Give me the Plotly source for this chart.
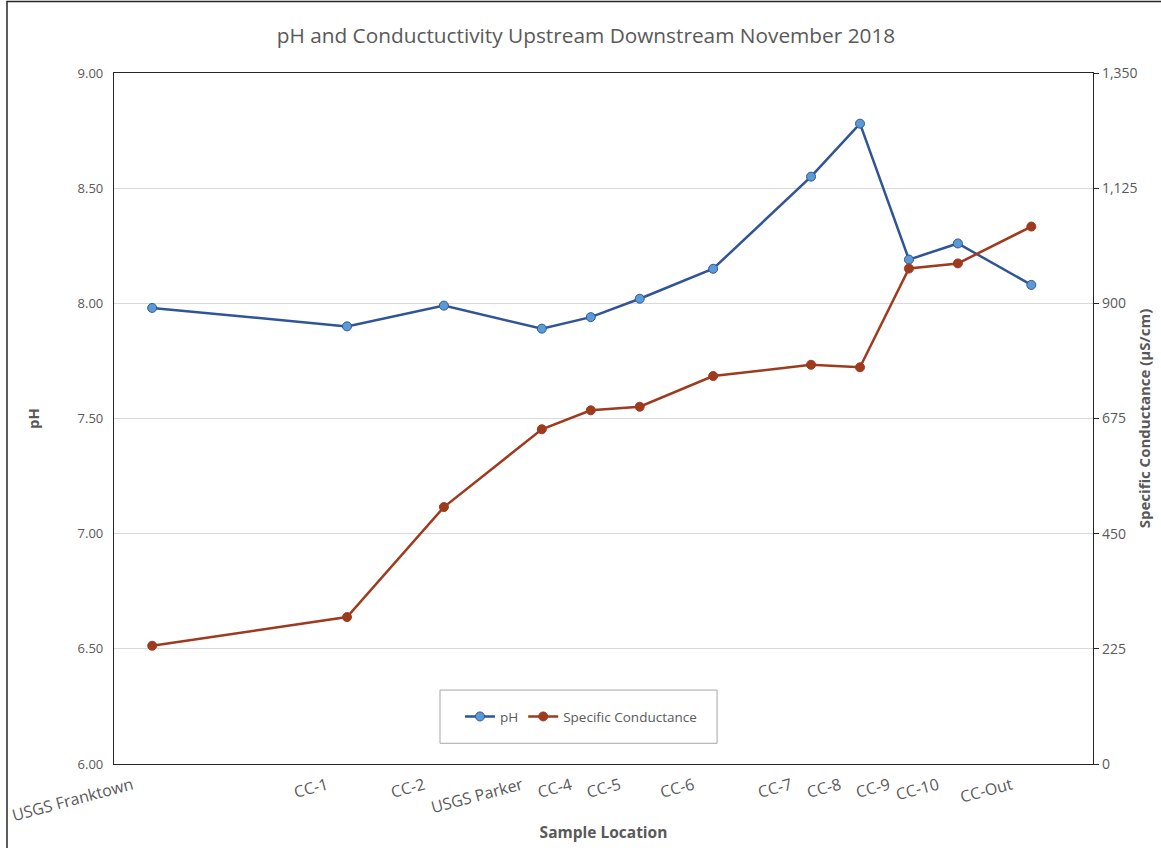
import plotly.graph_objects as go

# ---- data ----
locations = ["USGS Franktown", "CC-1", "CC-2", "USGS Parker", "CC-4", "CC-5",
             "CC-6", "CC-7", "CC-8", "CC-9", "CC-10", "CC-Out"]
distance = [3.9, 23.8, 33.7, 43.7, 48.7, 53.7, 61.2, 71.2, 76.2, 81.2, 86.2, 93.7]
ph_values = [7.98, 7.90, 7.99, 7.89, 7.94, 8.02, 8.15, 8.55, 8.78, 8.19, 8.26, 8.08]
conductance = [231, 287, 502, 654, 691, 698, 758, 780, 775, 968, 978, 1050]

ph_ticks = [6.0, 6.5, 7.0, 7.5, 8.0, 8.5, 9.0]
cond_ticks = [0, 225, 450, 675, 900, 1125, 1350]

FONT = "'Open Sans', sans-serif"
GREY = "#595959"

fig = go.Figure()
fig.add_trace(go.Scatter(
    x=distance, y=ph_values, name="pH", mode="lines+markers",
    line=dict(color="#2F5597", width=2.5),
    marker=dict(size=9, color="#5B9BD5", line=dict(color="#2F5597", width=1)),
    yaxis="y"))
fig.add_trace(go.Scatter(
    x=distance, y=conductance, name="Specific Conductance", mode="lines+markers",
    line=dict(color="#9E3A1E", width=2.5),
    marker=dict(size=9, color="#9E3A1E", line=dict(color="#9E3A1E", width=1)),
    yaxis="y2"))

fig.update_layout(
    width=1161, height=848,
    margin=dict(l=114, r=68, t=73, b=84, autoexpand=False),
    paper_bgcolor="white", plot_bgcolor="white",
    font=dict(family=FONT, color=GREY, size=13),
    title=dict(text="pH and Conductuctivity Upstream Downstream November 2018",
               x=0.5047, xanchor="center", y=0.958, yanchor="middle",
               font=dict(size=20.8, color=GREY, family=FONT)),
    xaxis=dict(range=[0, 100], tickvals=distance, ticktext=locations,
               tickangle=-15, ticks="", showgrid=False, zeroline=False,
               ticklabelshift=-20, ticklabelstandoff=5, automargin=False,
               tickfont=dict(size=16, color=GREY),
               title=dict(text="<b>Sample Location</b>", standoff=2,
                          font=dict(size=15.5, color=GREY)),
               showline=True, linecolor="#262626", linewidth=1.2, mirror=True),
    yaxis=dict(range=[6, 9], tickvals=ph_ticks, tickformat=".2f",
               showgrid=True, gridcolor="#D9D9D9", gridwidth=1, zeroline=False,
               ticks="", tickfont=dict(size=13, color=GREY),
               ticklabelstandoff=7, automargin=False,
               title=dict(text="<b>pH</b>", standoff=34, font=dict(size=15, color=GREY)),
               showline=True, linecolor="#262626", linewidth=1.2, mirror=True),
    yaxis2=dict(range=[0, 1350], tickvals=cond_ticks, tickformat=",",
                overlaying="y", side="right", showgrid=False, zeroline=False,
                ticks="outside", ticklen=5, tickcolor="#262626",
                tickfont=dict(size=14, color=GREY), automargin=False,
                title=dict(text="<b>Specific Conductance (µS/cm)</b>", standoff=2,
                           font=dict(size=15, color=GREY)),
                showline=True, linecolor="#262626", linewidth=1.2),
    legend=dict(orientation="h", x=0.477, xanchor="center", y=0.0685, yanchor="middle",
                bgcolor="rgba(0,0,0,0)", borderwidth=0,
                font=dict(size=13.5, color=GREY, family=FONT)),
    shapes=[
        dict(type="rect", xref="paper", yref="paper",
             x0=0.333, x1=0.616, y0=0.030, y1=0.107,
             line=dict(color="#A6A6A6", width=1), fillcolor="rgba(0,0,0,0)", layer="below"),
        dict(type="rect", xref="paper", yref="paper",
             x0=-0.1093, x1=1.2, y0=-0.3, y1=1.1035,
             line=dict(color="#262626", width=1.5), fillcolor="rgba(0,0,0,0)", layer="below"),
    ],
)

fig.write_html("out.html", config={"displayModeBar": False},
               post_script="document.body.style.margin='0';document.body.style.padding='0';")
